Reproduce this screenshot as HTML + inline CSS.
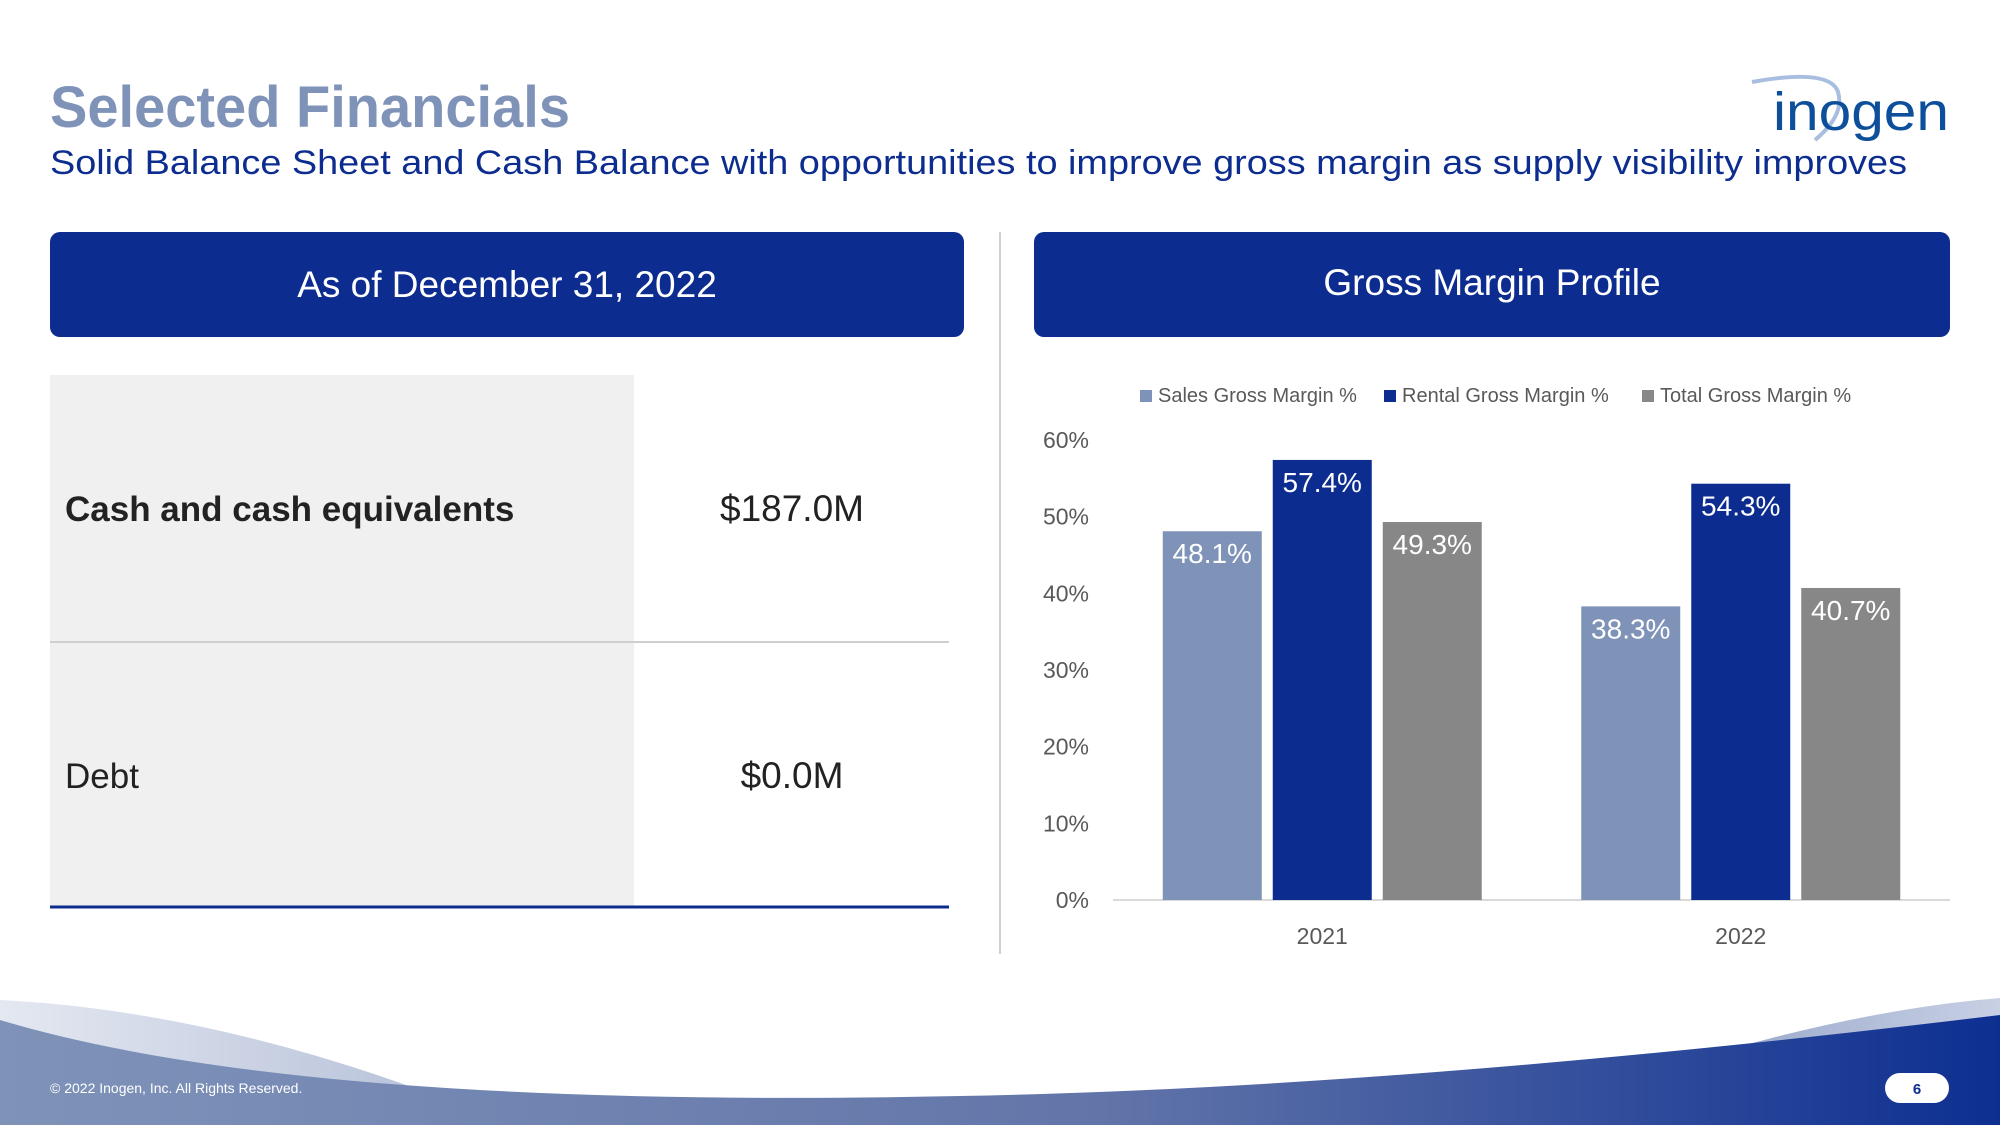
<!DOCTYPE html>
<html><head><meta charset="utf-8"><style>
html,body{margin:0;padding:0;background:#fff;}
svg{display:block;font-family:"Liberation Sans",sans-serif;}
</style></head><body>
<svg width="2000" height="1125" viewBox="0 0 2000 1125">
<defs>
<linearGradient id="fg" x1="0" x2="1" y1="0" y2="0"><stop offset="0" stop-color="#7f93b9"/><stop offset="0.55" stop-color="#6275a9"/><stop offset="1" stop-color="#0d2f91"/></linearGradient>
<linearGradient id="fl" x1="0" x2="1"><stop offset="0" stop-color="#e4e8f1"/><stop offset="1" stop-color="#b9c3da"/></linearGradient>
<linearGradient id="fr" x1="0" x2="1"><stop offset="0" stop-color="#8fa0c6"/><stop offset="1" stop-color="#c8d0e4"/></linearGradient>
</defs>
<text x="50" y="127" font-size="58" font-weight="bold" fill="#7f93b9" textLength="520" lengthAdjust="spacingAndGlyphs">Selected Financials</text>
<text x="50" y="174" font-size="34" fill="#0c2d8f" textLength="1857" lengthAdjust="spacingAndGlyphs">Solid Balance Sheet and Cash Balance with opportunities to improve gross margin as supply visibility improves</text>
<g>
<path d="M1752 82 Q1830 68 1838 92 Q1845 115 1815 140" fill="none" stroke="#a9bde0" stroke-width="4"/>
<text x="1773" y="130" font-size="54" fill="#0d4f9a" textLength="176" lengthAdjust="spacingAndGlyphs">inogen</text>
</g>
<rect x="50" y="232" width="914" height="105" rx="10" fill="#0c2d8f"/>
<text x="507" y="297" font-size="37" fill="#fff" text-anchor="middle">As of December 31, 2022</text>
<rect x="1034" y="232" width="916" height="105" rx="10" fill="#0c2d8f"/>
<text x="1492" y="295" font-size="37" fill="#fff" text-anchor="middle">Gross Margin Profile</text>
<line x1="1000" y1="232" x2="1000" y2="954" stroke="#d0d0d0" stroke-width="2"/>
<g>
<rect x="50" y="375" width="584" height="532" fill="#f0f0f0"/>
<line x1="50" y1="642" x2="949" y2="642" stroke="#cfcfcf" stroke-width="2"/>
<line x1="50" y1="907" x2="949" y2="907" stroke="#0c2d8f" stroke-width="3"/>
<text x="65" y="521" font-size="35" font-weight="bold" fill="#222">Cash and cash equivalents</text>
<text x="792" y="521" font-size="37" fill="#222" text-anchor="middle">$187.0M</text>
<text x="65" y="788" font-size="35" fill="#222">Debt</text>
<text x="792" y="788" font-size="37" fill="#222" text-anchor="middle">$0.0M</text>
</g>
<g id="chart"></g>
<g>
<path d="M0 1000 Q200 1010 420 1090 L0 1090 Z" fill="url(#fl)"/>
<path d="M2000 998 Q1850 1010 1660 1070 L2000 1070 Z" fill="url(#fr)"/>
<path d="M0 1020 Q300 1110 960 1096 Q1400 1088 2000 1015 L2000 1125 L0 1125 Z" fill="url(#fg)"/>
<text x="50" y="1093" font-size="14" fill="#fff">© 2022 Inogen, Inc. All Rights Reserved.</text>
<rect x="1885" y="1073" width="64" height="30" rx="15" fill="#fff"/>
<text x="1917" y="1094" font-size="15" font-weight="bold" fill="#0c2d8f" text-anchor="middle">6</text>
</g>
</svg>
<script>
const categories = ["2021","2022"];
const seriesNames = ["Sales Gross Margin %","Rental Gross Margin %","Total Gross Margin %"];
const salesValues = [48.1,38.3];
const rentalValues = [57.4,54.3];
const totalValues = [49.3,40.7];
const yTicks = [0,10,20,30,40,50,60];
const colors = ["#7f93b9","#0c2d8f","#878787"];
const NS="http://www.w3.org/2000/svg";
const g=document.getElementById('chart');
const x0=1113,x1=1950,y0=900,yTop=440,yMax=60;
const y=v=>y0-(v/yMax)*(y0-yTop);
const band=(x1-x0)/categories.length;
const bx=(ci,si)=>x0+band*(ci+0.5)+(si-1)*110-49.5;
function mk(t,a,txt){const e=document.createElementNS(NS,t);for(const k in a)e.setAttribute(k,a[k]);if(txt!=null)e.textContent=txt;g.appendChild(e);return e;}
yTicks.forEach(t=>{
 const e=mk('text',{x:1089,y:y(t)+8,'font-size':23,fill:'#595959','text-anchor':'end'},t+'%');
 
 
});
const ax=mk('line',{x1:x0,y1:y0,x2:x1,y2:y0,stroke:'#d9d9d9','stroke-width':2});


categories.forEach((c,ci)=>{
 const e=mk('text',{x:x0+band*(ci+0.5),y:944,'font-size':23,fill:'#595959','text-anchor':'middle'},c);
 
 
});
const all=[salesValues,rentalValues,totalValues];
all.forEach((vals,si)=>{
 vals.forEach((v,ci)=>{
  const r=mk('rect',{x:bx(ci,si),y:y(v),width:99,height:y0-y(v),fill:colors[si]});
  
  
  const t=mk('text',{x:bx(ci,si)+49.5,y:y(v)+32,'font-size':28,fill:'#fff','text-anchor':'middle'},v.toFixed(1)+'%');
  
  
 });
});
const lx=[1140,1384,1642];
seriesNames.forEach((n,si)=>{
 const r=mk('rect',{x:lx[si],y:390,width:12,height:12,fill:colors[si]});
 
 
 const t=mk('text',{x:lx[si]+18,y:402,'font-size':20,fill:'#595959'},n);
 
 
});
</script>
</body></html>
